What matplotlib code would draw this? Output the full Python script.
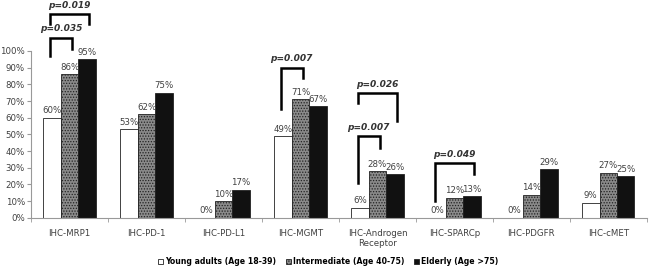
import matplotlib.pyplot as plt
import numpy as np

categories = ['IHC-MRP1', 'IHC-PD-1', 'IHC-PD-L1', 'IHC-MGMT',
              'IHC-Androgen\nReceptor', 'IHC-SPARCp', 'IHC-PDGFR', 'IHC-cMET']
young = [60, 53, 0, 49, 6, 0, 0, 9]
intermediate = [86, 62, 10, 71, 28, 12, 14, 27]
elderly = [95, 75, 17, 67, 26, 13, 29, 25]
series_names = ['Young adults (Age 18-39)', 'Intermediate (Age 40-75)', 'Elderly (Age >75)']

# significance brackets: group, bar from, bar to, top, left leg end, right leg end, label
brackets = [
    (0, 0, 2, 122, 116, 116, 'p=0.019'),
    (0, 0, 1, 108, 97, 101, 'p=0.035'),
    (3, 0, 1, 90, 65, 84, 'p=0.007'),
    (4, 0, 2, 75, 69, 58, 'p=0.026'),
    (4, 0, 1, 49, 21, 42, 'p=0.007'),
    (5, 0, 2, 33, 10, 26, 'p=0.049'),
]

plt.rcParams['hatch.color'] = '#555555'
plt.rcParams['hatch.linewidth'] = 0.6

fig = plt.figure(figsize=(6.5, 2.71), dpi=100)
ax = fig.add_axes([0.048, 0.196, 0.947, 0.616])

x = np.arange(len(categories))
w = 0.227
styles = [dict(color='white', hatch=None),
          dict(color='#8a8a8a', hatch='......'),
          dict(color='#111111', hatch=None)]
for i, (vals, name, st) in enumerate(zip([young, intermediate, elderly], series_names, styles)):
    pos = x + (i - 1) * w
    ax.bar(pos, vals, w, facecolor=st['color'], edgecolor='#222222', linewidth=0.6,
           hatch=st['hatch'], label=name)
    for p, v in zip(pos, vals):
        ax.text(p, v + 1.5, f'{v}%', ha='center', va='bottom', fontsize=6.2, color='#404040')

for g, b0, b1, top, l_end, r_end, lab in brackets:
    x0 = g + (b0 - 1) * w - 0.03
    x1 = g + (b1 - 1) * w + 0.03
    ax.plot([x0, x0, x1, x1], [l_end, top, top, r_end], color='black', lw=1.8,
            clip_on=False, solid_joinstyle='miter')
    ax.text((x0 + x1) / 2, top + 2.5, lab, ha='center', va='bottom', fontsize=6.5,
            style='italic', fontweight='bold', color='#333333')

ax.set_xlim(-0.5, len(categories) - 0.5)
ax.set_ylim(0, 100)
ax.set_yticks(np.arange(0, 101, 10))
ax.set_yticklabels([f'{v}%' for v in range(0, 101, 10)], fontsize=6.2, color='#404040')
ax.set_xticks(x)
ax.set_xticklabels(categories, fontsize=6.2, color='#404040')
ax.set_xticks(np.arange(-0.5, len(categories)), minor=True)
ax.tick_params(axis='x', which='major', length=0, pad=8)
ax.tick_params(axis='x', which='minor', length=3, color='#999999')
ax.tick_params(axis='y', length=3, color='#999999', pad=1.5)
for s in ['top', 'right']:
    ax.spines[s].set_visible(False)
ax.spines['left'].set_color('#999999')
ax.spines['bottom'].set_color('#999999')

handles, labels = ax.get_legend_handles_labels()
fig.legend(handles, labels, loc='center', bbox_to_anchor=(0.505, 0.035), ncol=3, frameon=False,
           handlelength=0.7, handleheight=0.7, handletextpad=0.25,
           columnspacing=1.2, prop={'weight': 'bold', 'size': 5.6})

fig.savefig('out.png', dpi=100)
